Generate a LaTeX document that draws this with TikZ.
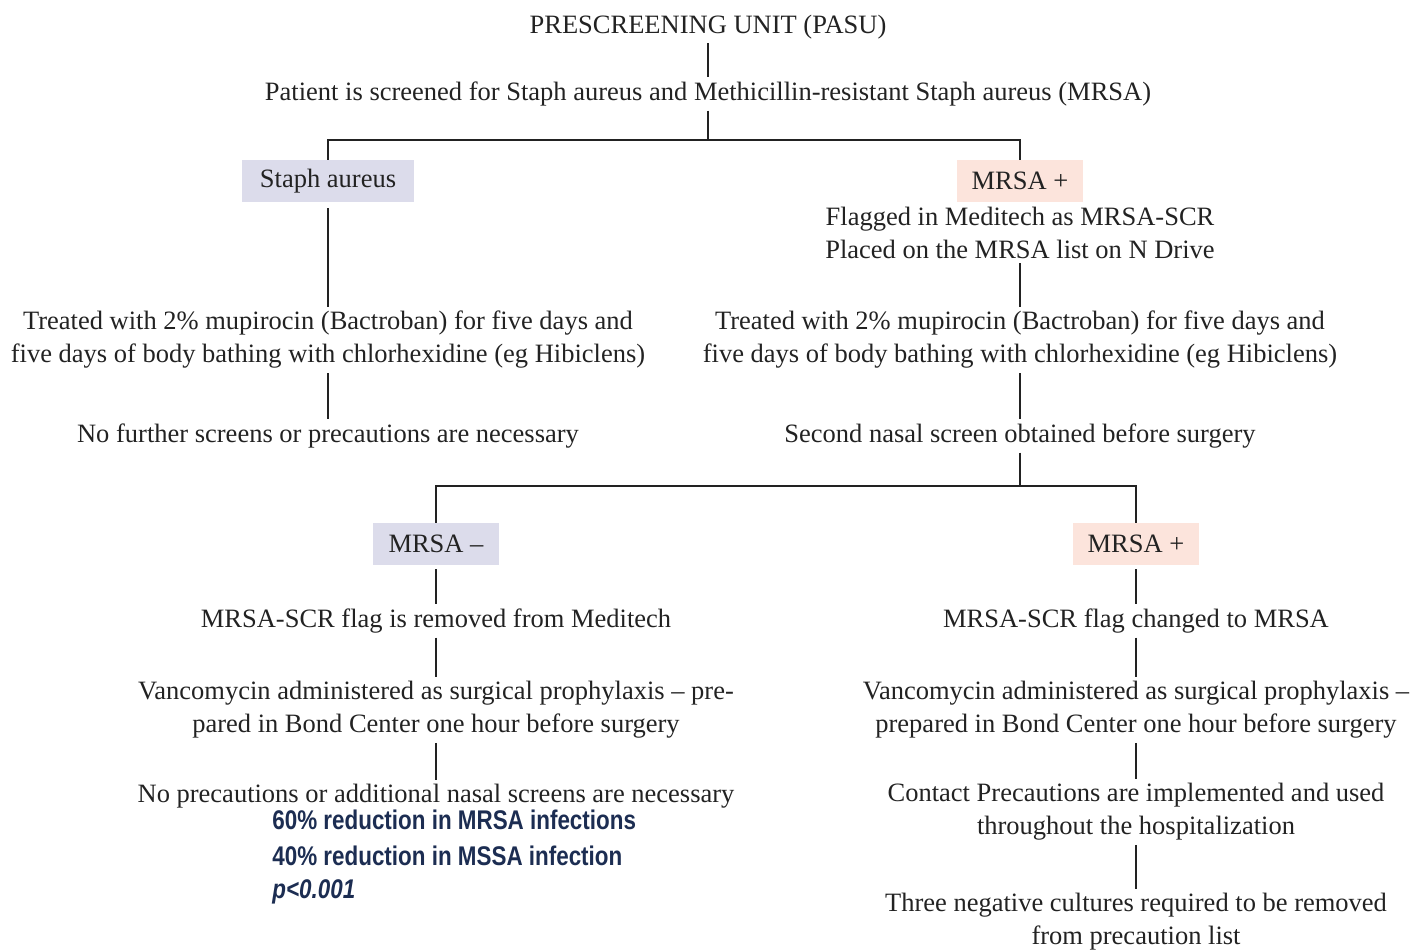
\documentclass[tikz,border=0pt]{standalone}
\usepackage{fontspec}
\setmainfont{Liberation Serif}
\newfontfamily\narrowsans[FakeStretch=0.83]{Liberation Sans}
\definecolor{lav}{HTML}{DCDCEB}
\definecolor{pinkbox}{HTML}{FCE4DC}
\definecolor{navy}{HTML}{1C2D52}
\definecolor{ink}{HTML}{222222}
\begin{document}
\begin{tikzpicture}[x=0.5pt,y=-0.5pt,
  txt/.style={align=center,font=\fontsize{13.25}{16.5}\selectfont,text=ink,inner sep=2pt},
  lavbox/.style={txt,fill=lav,minimum height=21pt,inner sep=0pt},
  pinkb/.style={txt,fill=pinkbox,minimum height=21pt,inner sep=0pt},
  conn/.style={draw=ink,line width=1pt},
  blue/.style={anchor=west,font=\narrowsans\bfseries\fontsize{13.5}{16}\selectfont,text=navy,inner sep=0pt}]
\useasboundingbox (0,0) rectangle (1412,951);
\node[txt] (pasu) at (708,27) {PRESCREENING UNIT (PASU)};
\node[txt] (screen) at (708,94) {Patient is screened for Staph aureus and Methicillin-resistant Staph aureus (MRSA)};
\node[lavbox,minimum width=86pt] (staph) at (328,181) {Staph aureus};
\node[pinkb,minimum width=63pt] (mrsap) at (1020,181) {MRSA +};
\node[txt] (flag) at (1020,233) {Flagged in Meditech as MRSA-SCR\\Placed on the MRSA list on N Drive};
\node[txt] (ltreat) at (328,340) {Treated with 2\% mupirocin (Bactroban) for five days and\\five days of body bathing with chlorhexidine (eg Hibiclens)};
\node[txt] (rtreat) at (1020,340) {Treated with 2\% mupirocin (Bactroban) for five days and\\five days of body bathing with chlorhexidine (eg Hibiclens)};
\node[txt] (nofurther) at (328,436) {No further screens or precautions are necessary};
\node[txt] (second) at (1020,436) {Second nasal screen obtained before surgery};
\node[lavbox,minimum width=63pt] (mrsam) at (436,544) {MRSA –};
\node[pinkb,minimum width=63pt] (mrsap2) at (1136,544) {MRSA +};
\node[txt] (lremoved) at (436,621) {MRSA-SCR flag is removed from Meditech};
\node[txt] (lvanco) at (436,710) {Vancomycin administered as surgical prophylaxis – pre-\\pared in Bond Center one hour before surgery};
\node[txt] (lnoprec) at (436,796) {No precautions or additional nasal screens are necessary};
\node[txt] (rchanged) at (1136,621) {MRSA-SCR flag changed to MRSA};
\node[txt] (rvanco) at (1136,710) {Vancomycin administered as surgical prophylaxis –\\prepared in Bond Center one hour before surgery};
\node[txt] (rcontact) at (1136,812) {Contact Precautions are implemented and used\\throughout the hospitalization};
\node[txt] (rthree) at (1136,922) {Three negative cultures required to be removed\\from precaution list};
\node[blue] (b1) at (272,820) {60\% reduction in MRSA infections};
\node[blue] (b2) at (272,856) {40\% reduction in MSSA infection};
\node[blue] (b3) at (272,892) {\itshape p<0.001};
\coordinate (fork1) at (708,140);
\coordinate (fork2) at (1020,486);
\draw[conn] (pasu) -- (screen);
\draw[conn] (screen) -- (fork1);
\draw[conn] (staph.north) |- (fork1) -| (mrsap.north);
\draw[conn] ([yshift=-3pt]staph.south) -- (ltreat);
\draw[conn] (flag) -- (rtreat);
\draw[conn] (ltreat) -- (nofurther);
\draw[conn] (rtreat) -- (second);
\draw[conn] (second) -- (fork2);
\draw[conn] (mrsam.north) |- (fork2) -| (mrsap2.north);
\draw[conn] ([yshift=-2pt]mrsam.south) -- (lremoved);
\draw[conn] (lremoved) -- (lvanco);
\draw[conn] (lvanco) -- (lnoprec);
\draw[conn] ([yshift=-2pt]mrsap2.south) -- (rchanged);
\draw[conn] (rchanged) -- (rvanco);
\draw[conn] (rvanco) -- (rcontact);
\draw[conn] (rcontact) -- (rthree);
\end{tikzpicture}
\end{document}
